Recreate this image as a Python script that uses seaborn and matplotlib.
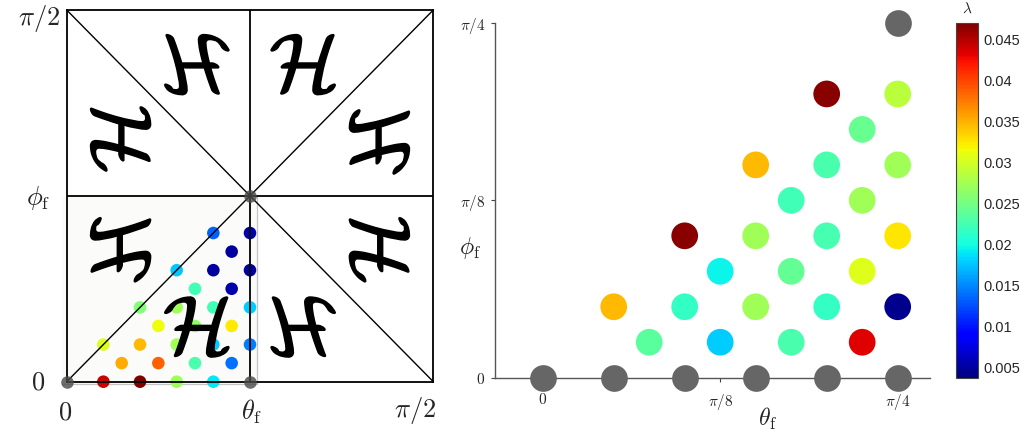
import numpy as np
import pandas as pd
import matplotlib
matplotlib.use("Agg")
import matplotlib.pyplot as plt
import seaborn as sns
from matplotlib.colors import Normalize
from matplotlib.cm import ScalarMappable
from matplotlib.textpath import TextPath
from matplotlib.patches import PathPatch, Rectangle
from matplotlib.font_manager import FontProperties
from matplotlib.transforms import Affine2D

# ---------------- data (grid indices in units of pi/40) ----------------
left_theta = [2, 4, 6, 8, 3, 5, 7, 9, 2, 4, 6, 8, 10, 5, 7, 9, 4, 6, 8, 10, 7, 9, 6, 8, 10, 9, 8, 10]
left_phi = [0, 0, 0, 0, 1, 1, 1, 1, 2, 2, 2, 2, 2, 3, 3, 3, 4, 4, 4, 4, 5, 5, 6, 6, 6, 7, 8, 8]
left_lam = [0.0440, 0.0470, 0.0273, 0.0190,
            0.0353, 0.0386, 0.0228, 0.0139,
            0.0305, 0.0346, 0.0273, 0.0178, 0.0145,
            0.0314, 0.0265, 0.0323,
            0.0256, 0.0273, 0.0223, 0.0178,
            0.0223, 0.0055,
            0.0176, 0.0049, 0.0050,
            0.0049,
            0.0132, 0.0055]
left_gray_theta = [0, 10, 10]
left_gray_phi = [0, 0, 10]

right_theta = [3, 5, 7, 9, 2, 4, 6, 8, 10, 5, 7, 9, 4, 6, 8, 10, 7, 9, 6, 8, 10, 9, 8, 10]
right_phi = [1, 1, 1, 1, 2, 2, 2, 2, 2, 3, 3, 3, 4, 4, 4, 4, 5, 5, 6, 6, 6, 7, 8, 8]
right_lam = [0.0236, 0.0178, 0.0228, 0.0434,
             0.0346, 0.0215, 0.0273, 0.0215, 0.0043,
             0.0195, 0.0240, 0.0305,
             0.0465, 0.0273, 0.0225, 0.0325,
             0.0223, 0.0273,
             0.0346, 0.0228, 0.0273,
             0.0242,
             0.0465, 0.0286]
right_gray_theta = [0, 2, 4, 6, 8, 10, 10]
right_gray_phi = [0, 0, 0, 0, 0, 0, 10]

cbar_ticks = [0.005, 0.01, 0.015, 0.02, 0.025, 0.03, 0.035, 0.04, 0.045]
cbar_labels = ["0.005", "0.01", "0.015", "0.02", "0.025", "0.03", "0.035", "0.04", "0.045"]
lam_min, lam_max = 0.0037, 0.047

STEP = np.pi / 40
H = np.pi / 2
Q = np.pi / 4

sns.set_style("white")
plt.rcParams["font.family"] = ["Liberation Sans", "DejaVu Sans"]
plt.rcParams["mathtext.fontset"] = "cm"

JET = matplotlib.colormaps["jet"]

W, Hpx = 1024, 438
fig = plt.figure(figsize=(W / 100, Hpx / 100), dpi=100)


def fx(px):
    return px / W


def fy(py):
    return 1 - py / Hpx


norm = Normalize(lam_min, lam_max)

# ---------------- left panel ----------------
axL = fig.add_axes([fx(66.7), fy(381.7), fx(433.3) - fx(66.7), fy(10) - fy(381.7)])
axL.set_xlim(0, H)
axL.set_ylim(0, H)

px_x = H / 366.7
px_y = H / 371.7
axL.add_patch(Rectangle((-5 * px_x, -2.3 * px_y), Q + 11.7 * px_x, Q + 2.3 * px_y,
                        facecolor="#fbfbf9", edgecolor="none", zorder=0, clip_on=False))
axL.plot([Q + 6.7 * px_x] * 2, [-2.3 * px_y, Q], color="#c4c4c4", lw=0.9, zorder=0.5, clip_on=False)
axL.plot([-5 * px_x, Q + 6.7 * px_x], [-2.3 * px_y] * 2, color="#c4c4c4", lw=0.9, zorder=0.5, clip_on=False)

dfL = pd.DataFrame({"theta": np.array(left_theta) * STEP, "phi": np.array(left_phi) * STEP, "lam": left_lam})
sns.scatterplot(data=dfL, x="theta", y="phi", hue="lam", palette=JET, hue_norm=norm,
                s=82, linewidth=0, legend=False, ax=axL, zorder=2)
axL.collections[-1].set_clip_on(False)

for xs, ys, lw in [([0, H], [0, H], 1.0), ([0, H], [H, 0], 1.0), ([Q, Q], [0, H], 1.3), ([0, H], [Q, Q], 1.3)]:
    axL.plot(xs, ys, color="black", lw=lw, zorder=3)

dfLg = pd.DataFrame({"theta": np.array(left_gray_theta) * STEP, "phi": np.array(left_gray_phi) * STEP})
sns.scatterplot(data=dfLg, x="theta", y="phi", color="#4a4a4a", alpha=0.8, s=82, linewidth=0,
                legend=False, ax=axL, zorder=5)
axL.collections[-1].set_clip_on(False)
axL.set_xlabel("")
axL.set_ylabel("")
axL.set_xticks([])
axL.set_yticks([])
for s in axL.spines.values():
    s.set_color("black")
    s.set_linewidth(1.3)
    s.set_visible(True)

# calligraphic H letters
tp = TextPath((0, 0), r"$\mathcal{H}$", size=100, prop=FontProperties(math_fontfamily="cm"))
bb = tp.get_extents()
sc = 60.0 / bb.height
orient = {
    "I": [[1, 0], [0, 1]],
    "T": [[0, 1], [1, 0]],
    "R90": [[0, -1], [1, 0]],
    "Fx": [[-1, 0], [0, 1]],
}
letters = [(0.355, 0.147, "I"), (0.147, 0.355, "T"), (0.147, 0.653, "R90"), (0.355, 0.853, "Fx"),
           (0.645, 0.853, "I"), (0.853, 0.645, "T"), (0.853, 0.355, "R90"), (0.645, 0.147, "Fx")]
for ux, uy, key in letters:
    m = orient[key]
    M = np.array([[m[0][0], m[0][1], 0], [m[1][0], m[1][1], 0], [0, 0, 1]], float)
    tr = (Affine2D().translate(-(bb.x0 + bb.width / 2), -(bb.y0 + bb.height / 2)).scale(sc)
          + Affine2D(M) + Affine2D().scale(px_x, px_y).translate(ux * H, uy * H))
    axL.add_patch(PathPatch(tp, transform=tr + axL.transData, facecolor="black",
                            edgecolor="black", lw=1.1, joinstyle="round", zorder=4))

fsL = 19
fig.text(fx(60), fy(18), r"$\pi/2$", fontsize=fsL, ha="right", va="center")
fig.text(fx(38), fy(198), r"$\phi_{\rm f}$", fontsize=fsL, ha="center", va="center")
fig.text(fx(38), fy(383), r"$0$", fontsize=fsL, ha="center", va="center")
fig.text(fx(65), fy(412), r"$0$", fontsize=fsL, ha="center", va="center")
fig.text(fx(251), fy(412), r"$\theta_{\rm f}$", fontsize=fsL, ha="center", va="center")
fig.text(fx(415), fy(411), r"$\pi/2$", fontsize=fsL, ha="center", va="center")

# ---------------- right panel ----------------
axR = fig.add_axes([fx(495), fy(377.7), fx(930) - fx(495), fy(23) - fy(377.7)])
dfR = pd.DataFrame({"theta": np.array(right_theta) * STEP, "phi": np.array(right_phi) * STEP, "lam": right_lam})
sns.scatterplot(data=dfR, x="theta", y="phi", hue="lam", palette=JET, hue_norm=norm,
                s=370, linewidth=0, legend=False, ax=axR, zorder=3)
axR.collections[-1].set_clip_on(False)
dfRg = pd.DataFrame({"theta": np.array(right_gray_theta) * STEP, "phi": np.array(right_gray_phi) * STEP})
sns.scatterplot(data=dfRg, x="theta", y="phi", color="#666666", s=370, linewidth=0,
                legend=False, ax=axR, zorder=3)
axR.collections[-1].set_clip_on(False)

axR.set_xlim(-1.344 * STEP, 10.91 * STEP)
axR.set_ylim(0, Q)
axR.set_xticks([0, np.pi / 8, np.pi / 4])
axR.set_xticklabels([r"$0$", r"$\pi/8$", r"$\pi/4$"])
axR.set_yticks([0, np.pi / 8, np.pi / 4])
axR.set_yticklabels([r"$0$", r"$\pi/8$", r"$\pi/4$"])
axR.tick_params(axis="x", direction="out", length=3, width=0.8, color="#444444", labelsize=11, pad=7,
                bottom=True)
axR.tick_params(axis="y", direction="out", length=3, width=0.8, color="#444444", labelsize=11, pad=4,
                left=True)
axR.set_xlabel("")
axR.set_ylabel("")
for k in ["top", "right"]:
    axR.spines[k].set_visible(False)
for k in ["left", "bottom"]:
    axR.spines[k].set_color("#555555")
    axR.spines[k].set_linewidth(1.0)
axR.set_facecolor("white")

fig.text(fx(470), fy(248), r"$\phi_{\rm f}$", fontsize=17, ha="center", va="center")
fig.text(fx(768), fy(419), r"$\theta_{\rm f}$", fontsize=17, ha="center", va="center")

# ---------------- colorbar ----------------
cax = fig.add_axes([fx(955.7), fy(377.7), fx(978.3) - fx(955.7), fy(22.7) - fy(377.7)])
sm = ScalarMappable(norm=norm, cmap=JET)
cb = fig.colorbar(sm, cax=cax)
cb.set_ticks(cbar_ticks)
cb.set_ticklabels(cbar_labels)
cax.tick_params(direction="in", length=3, width=0.6, color="#444444", labelsize=10.5, pad=4)
cb.outline.set_edgecolor("#444444")
cb.outline.set_linewidth(0.8)
fig.text(fx(967), fy(9), r"$\lambda$", fontsize=11, ha="center", va="center")

fig.savefig("out.png", dpi=100)
